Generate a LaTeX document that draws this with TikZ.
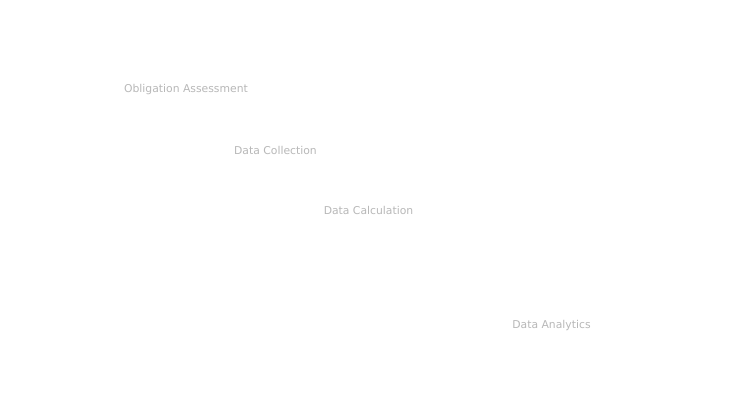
\documentclass[tikz,border=0pt]{standalone}
\usepackage{fontspec}
\setmainfont{DejaVu Sans}
\definecolor{lblgray}{HTML}{B8B8B8}
\begin{document}
\begin{tikzpicture}[x=0.75pt,y=-0.75pt,
  lbl/.style={inner sep=0pt,anchor=center,text=lblgray,font=\fontsize{8.1}{9.5}\selectfont}]
\useasboundingbox[fill=white] (0,0) rectangle (736,414);
\node[lbl] (oa) at (186,90) {Obligation Assessment};
\node[lbl] (dc) at (275.5,150.2) {Data Collection};
\node[lbl] (dcal) at (368.5,210.2) {Data Calculation};
\node[lbl] (da) at (551.5,325.3) {Data Analytics};
\end{tikzpicture}
\end{document}
